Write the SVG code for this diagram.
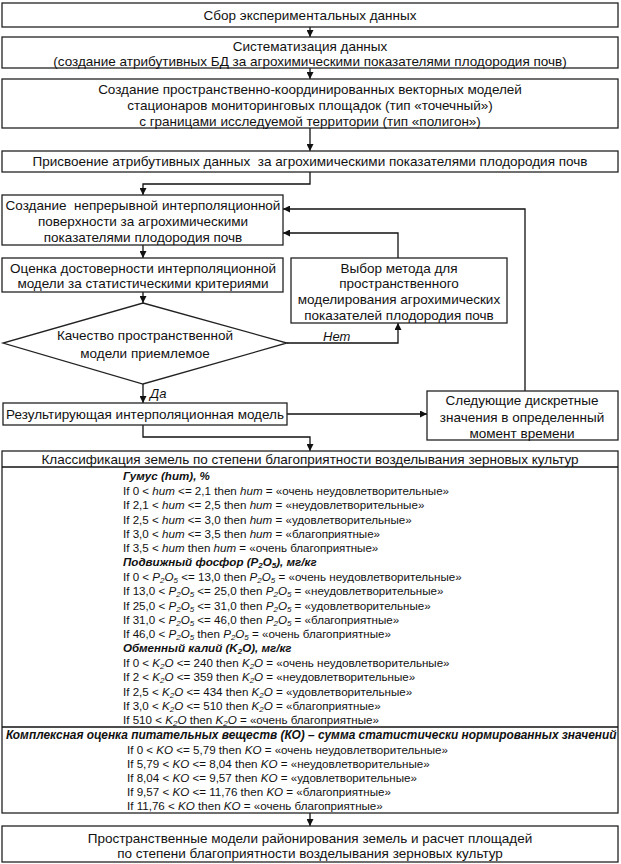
<svg xmlns="http://www.w3.org/2000/svg" width="621" height="864" viewBox="0 0 621 864">
<defs>
<style>
.b{fill:#fff;stroke:#222;stroke-width:1.3}
.t{font-family:"Liberation Sans",Arial,sans-serif;font-size:13.5px;fill:#111;text-anchor:middle}
.r{font-family:"Liberation Sans",Arial,sans-serif;font-size:11.6px;fill:#111}
.h{font-weight:bold;font-style:italic}
.i{font-style:italic}
.s{font-size:8px}
.c{fill:none;stroke:#111;stroke-width:1.3}
</style>
<marker id="a" viewBox="0 0 10 10" refX="10" refY="5" markerWidth="7" markerHeight="7" orient="auto" markerUnits="userSpaceOnUse"><path d="M0,0 L10,5 L0,10 z" fill="#111"/></marker>
</defs>
<rect width="621" height="864" fill="#fff"/>
<g id="connectors">
<line class="c" x1="310" y1="27" x2="310" y2="37" marker-end="url(#a)"/>
<line class="c" x1="310" y1="68" x2="310" y2="79" marker-end="url(#a)"/>
<line class="c" x1="310" y1="128" x2="310" y2="151" marker-end="url(#a)"/>
<polyline class="c" points="310,172 310,184 143,184 143,195" marker-end="url(#a)"/>
<line class="c" x1="143" y1="245" x2="143" y2="258" marker-end="url(#a)"/>
<line class="c" x1="143" y1="292" x2="143" y2="303" marker-end="url(#a)"/>
<polyline class="c" points="287,343 398,343 398,323" marker-end="url(#a)"/>
<polyline class="c" points="398,258 398,233 283,233" marker-end="url(#a)"/>
<polyline class="c" points="525,391 525,209 283,209" marker-end="url(#a)"/>
<line class="c" x1="143" y1="384" x2="143" y2="403" marker-end="url(#a)"/>
<line class="c" x1="287" y1="414" x2="427" y2="414" marker-end="url(#a)"/>
<polyline class="c" points="143,425 143,437 310,437 310,451" marker-end="url(#a)"/>
<line class="c" x1="310" y1="813" x2="310" y2="826" marker-end="url(#a)"/>
<text class="r i" x="323" y="341" style="font-size:13px">Нет</text>
<text class="r i" x="150" y="398" style="font-size:13px">Да</text>
</g>
<g id="n1"><rect class="b" x="2" y="3" width="616" height="24"/><text class="t" x="310" y="19.5">Сбор экспериментальных данных</text></g>
<g id="n2"><rect class="b" x="2" y="37" width="616" height="31"/><text class="t" x="310" y="51">Систематизация данных</text><text class="t" x="310" y="66">(создание атрибутивных БД за агрохимическими показателями плодородия почв)</text></g>
<g id="n3"><rect class="b" x="2" y="79" width="616" height="49"/><text class="t" x="310" y="94">Создание пространственно-координированных векторных моделей</text><text class="t" x="310" y="110">стационаров мониторинговых площадок (тип «точечный»)</text><text class="t" x="310" y="126">с границами исследуемой территории (тип «полигон»)</text></g>
<g id="n4"><rect class="b" x="2" y="151" width="616" height="21"/><text class="t" x="310" y="166" style="white-space:pre">Присвоение атрибутивных данных  за агрохимическими показателями плодородия почв</text></g>
<g id="n5"><rect class="b" x="2" y="195" width="281" height="50"/><text class="t" x="143" y="210" style="white-space:pre">Создание  непрерывной интерполяционной</text><text class="t" x="143" y="226">поверхности за агрохимическими</text><text class="t" x="143" y="242">показателями плодородия почв</text></g>
<g id="n6"><rect class="b" x="2" y="258" width="281" height="34"/><text class="t" x="143" y="273">Оценка достоверности интерполяционной</text><text class="t" x="143" y="288">модели за статистическими критериями</text></g>
<g id="n7"><rect class="b" x="291" y="258" width="216" height="65"/><text class="t" x="399" y="273">Выбор метода для</text><text class="t" x="399" y="288">пространственного</text><text class="t" x="399" y="304">моделирования агрохимических</text><text class="t" x="399" y="320">показателей плодородия почв</text></g>
<g id="n8"><polygon class="b" points="143,303 287,343 143,384 3,343"/><text class="t" x="145" y="340">Качество пространственной</text><text class="t" x="145" y="358">модели приемлемое</text></g>
<g id="n9"><rect class="b" x="3" y="403" width="284" height="22"/><text class="t" x="145" y="419">Результирующая интерполяционная модель</text></g>
<g id="n10"><rect class="b" x="427" y="391" width="191" height="49"/><text class="t" x="522" y="405">Следующие дискретные</text><text class="t" x="522" y="422">значения в определенный</text><text class="t" x="522" y="438">момент времени</text></g>
<g id="n11">
<rect class="b" x="2" y="451" width="616" height="362"/>
<line class="c" x1="2" y1="467" x2="618" y2="467"/>
<line class="c" x1="2" y1="727" x2="618" y2="727"/>
<text class="t" x="310" y="464">Классификация земель по степени благоприятности возделывания зерновых культур</text>
<text class="r h" x="123" y="480">Гумус (hum), %</text>
<text class="r" x="123" y="495">If 0 &lt; <tspan class="i">hum</tspan> &lt;= 2,1 then <tspan class="i">hum</tspan> = «очень неудовлетворительные»</text>
<text class="r" x="123" y="509">If 2,1 &lt; <tspan class="i">hum</tspan> &lt;= 2,5 then <tspan class="i">hum</tspan> = «неудовлетворительные»</text>
<text class="r" x="123" y="524">If 2,5 &lt; <tspan class="i">hum</tspan> &lt;= 3,0 then <tspan class="i">hum</tspan> = «удовлетворительные»</text>
<text class="r" x="123" y="538">If 3,0 &lt; <tspan class="i">hum</tspan> &lt;= 3,5 then <tspan class="i">hum</tspan> = «благоприятные»</text>
<text class="r" x="123" y="552">If 3,5 &lt; <tspan class="i">hum</tspan> then <tspan class="i">hum</tspan> = «очень благоприятные»</text>
<text class="r h" x="123" y="566">Подвижный фосфор (P<tspan class="s" dy="2">2</tspan><tspan dy="-2">O</tspan><tspan class="s" dy="2">5</tspan><tspan dy="-2">), мг/кг</tspan></text>
<text class="r" x="123" y="581">If 0 &lt; <tspan class="i">P<tspan class="s" dy="2">2</tspan><tspan dy="-2">O</tspan><tspan class="s" dy="2">5</tspan></tspan><tspan dy="-2"> &lt;= 13,0 then </tspan><tspan class="i">P<tspan class="s" dy="2">2</tspan><tspan dy="-2">O</tspan><tspan class="s" dy="2">5</tspan></tspan><tspan dy="-2"> = «очень неудовлетворительные»</tspan></text>
<text class="r" x="123" y="595">If 13,0 &lt; <tspan class="i">P<tspan class="s" dy="2">2</tspan><tspan dy="-2">O</tspan><tspan class="s" dy="2">5</tspan></tspan><tspan dy="-2"> &lt;= 25,0 then </tspan><tspan class="i">P<tspan class="s" dy="2">2</tspan><tspan dy="-2">O</tspan><tspan class="s" dy="2">5</tspan></tspan><tspan dy="-2"> = «неудовлетворительные»</tspan></text>
<text class="r" x="123" y="610">If 25,0 &lt; <tspan class="i">P<tspan class="s" dy="2">2</tspan><tspan dy="-2">O</tspan><tspan class="s" dy="2">5</tspan></tspan><tspan dy="-2"> &lt;= 31,0 then </tspan><tspan class="i">P<tspan class="s" dy="2">2</tspan><tspan dy="-2">O</tspan><tspan class="s" dy="2">5</tspan></tspan><tspan dy="-2"> = «удовлетворительные»</tspan></text>
<text class="r" x="123" y="624">If 31,0 &lt; <tspan class="i">P<tspan class="s" dy="2">2</tspan><tspan dy="-2">O</tspan><tspan class="s" dy="2">5</tspan></tspan><tspan dy="-2"> &lt;= 46,0 then </tspan><tspan class="i">P<tspan class="s" dy="2">2</tspan><tspan dy="-2">O</tspan><tspan class="s" dy="2">5</tspan></tspan><tspan dy="-2"> = «благоприятные»</tspan></text>
<text class="r" x="123" y="638">If 46,0 &lt; <tspan class="i">P<tspan class="s" dy="2">2</tspan><tspan dy="-2">O</tspan><tspan class="s" dy="2">5</tspan></tspan><tspan dy="-2"> then </tspan><tspan class="i">P<tspan class="s" dy="2">2</tspan><tspan dy="-2">O</tspan><tspan class="s" dy="2">5</tspan></tspan><tspan dy="-2"> = «очень благоприятные»</tspan></text>
<text class="r h" x="123" y="652">Обменный калий (K<tspan class="s" dy="2">2</tspan><tspan dy="-2">O), мг/кг</tspan></text>
<text class="r" x="123" y="667">If 0 &lt; <tspan class="i">K<tspan class="s" dy="2">2</tspan><tspan dy="-2">O</tspan></tspan> &lt;= 240 then <tspan class="i">K<tspan class="s" dy="2">2</tspan><tspan dy="-2">O</tspan></tspan> = «очень неудовлетворительные»</text>
<text class="r" x="123" y="681">If 2 &lt; <tspan class="i">K<tspan class="s" dy="2">2</tspan><tspan dy="-2">O</tspan></tspan> &lt;= 359 then <tspan class="i">K<tspan class="s" dy="2">2</tspan><tspan dy="-2">O</tspan></tspan> = «неудовлетворительные»</text>
<text class="r" x="123" y="696">If 2,5 &lt; <tspan class="i">K<tspan class="s" dy="2">2</tspan><tspan dy="-2">O</tspan></tspan> &lt;= 434 then <tspan class="i">K<tspan class="s" dy="2">2</tspan><tspan dy="-2">O</tspan></tspan> = «удовлетворительные»</text>
<text class="r" x="123" y="710">If 3,0 &lt; <tspan class="i">K<tspan class="s" dy="2">2</tspan><tspan dy="-2">O</tspan></tspan> &lt;= 510 then <tspan class="i">K<tspan class="s" dy="2">2</tspan><tspan dy="-2">O</tspan></tspan> = «благоприятные»</text>
<text class="r" x="123" y="724">If 510 &lt; <tspan class="i">K<tspan class="s" dy="2">2</tspan><tspan dy="-2">O</tspan></tspan> then <tspan class="i">K<tspan class="s" dy="2">2</tspan><tspan dy="-2">O</tspan></tspan> = «очень благоприятные»</text>
<text class="r h" x="6" y="739" style="font-size:11.9px">Комплексная оценка питательных веществ (КО) – сумма статистически нормированных значений</text>
<text class="r" x="127" y="754">If 0 &lt; <tspan class="i">KO</tspan> &lt;= 5,79 then <tspan class="i">KO</tspan> = «очень неудовлетворительные»</text>
<text class="r" x="127" y="768">If 5,79 &lt; <tspan class="i">KO</tspan> &lt;= 8,04 then <tspan class="i">KO</tspan> = «неудовлетворительные»</text>
<text class="r" x="127" y="782">If 8,04 &lt; <tspan class="i">KO</tspan> &lt;= 9,57 then <tspan class="i">KO</tspan> = «удовлетворительные»</text>
<text class="r" x="127" y="796">If 9,57 &lt; <tspan class="i">KO</tspan> &lt;= 11,76 then <tspan class="i">KO</tspan> = «благоприятные»</text>
<text class="r" x="127" y="810">If 11,76 &lt; <tspan class="i">KO</tspan> then <tspan class="i">KO</tspan> = «очень благоприятные»</text>
</g>
<g id="n12"><rect class="b" x="2" y="826" width="616" height="36"/><text class="t" x="310" y="843">Пространственные модели районирования земель и расчет площадей</text><text class="t" x="310" y="858">по степени благоприятности возделывания зерновых культур</text></g>
</svg>
